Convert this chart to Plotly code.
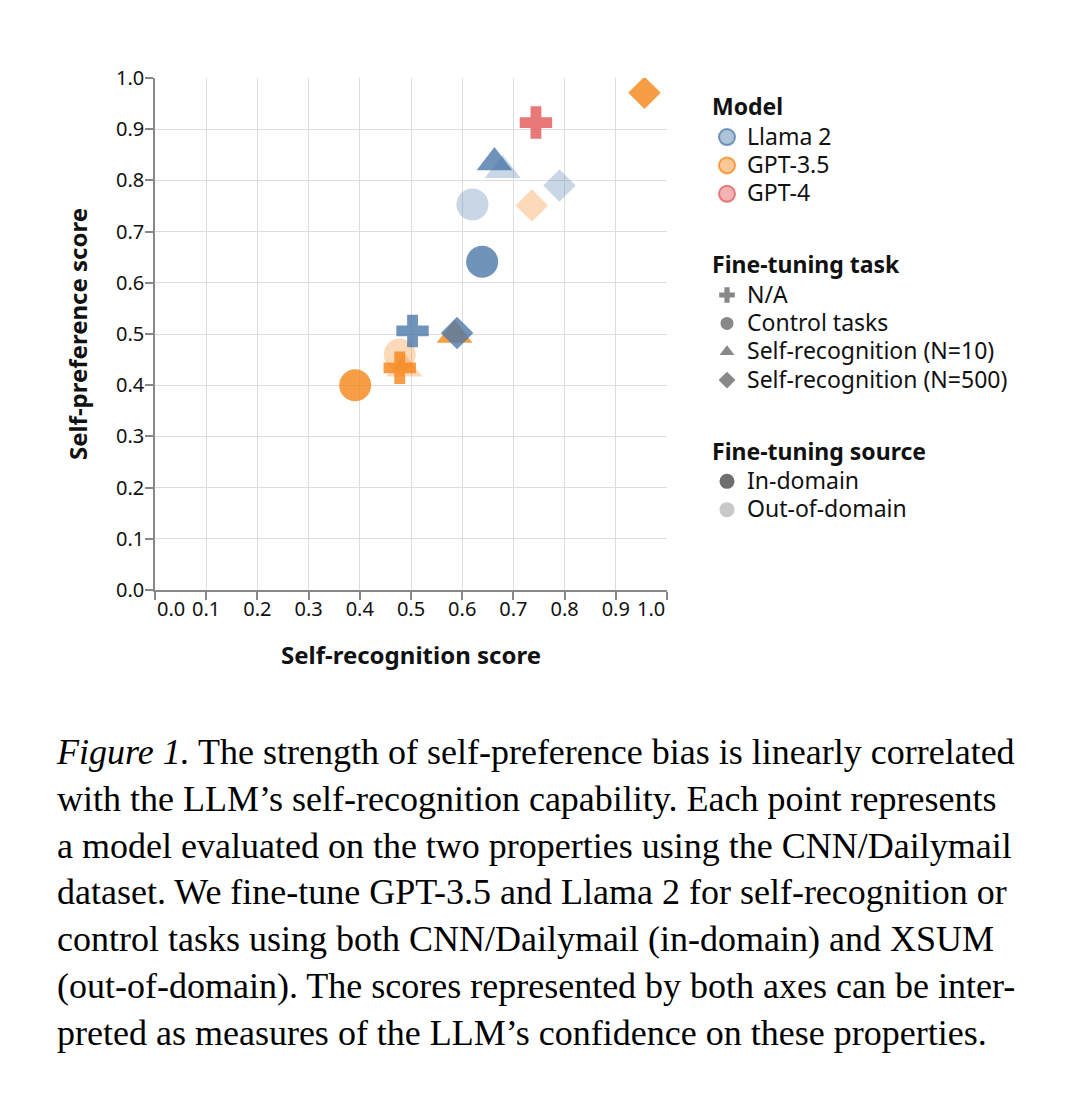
import plotly.graph_objects as go

# ---------------- data ----------------
models = ["Llama 2", "GPT-3.5", "Llama 2", "GPT-3.5", "Llama 2", "GPT-3.5",
          "Llama 2", "GPT-3.5", "Llama 2", "GPT-3.5", "Llama 2", "GPT-3.5",
          "Llama 2", "GPT-3.5", "GPT-4"]
tasks = ["Control tasks", "Control tasks", "Self-recognition (N=10)", "Self-recognition (N=10)",
         "Self-recognition (N=500)", "Self-recognition (N=500)",
         "Control tasks", "Control tasks", "Self-recognition (N=10)", "Self-recognition (N=10)",
         "Self-recognition (N=500)", "Self-recognition (N=500)",
         "N/A", "N/A", "N/A"]
sources = ["Out-of-domain"] * 6 + ["In-domain"] * 6 + [None, None, None]
self_recognition = [0.620, 0.478, 0.679, 0.487, 0.790, 0.736,
                    0.639, 0.391, 0.663, 0.585, 0.590, 0.956,
                    0.503, 0.478, 0.744]
self_preference = [0.753, 0.460, 0.820, 0.432, 0.790, 0.751,
                   0.641, 0.400, 0.835, 0.498, 0.502, 0.971,
                   0.506, 0.434, 0.913]

model_names = ["Llama 2", "GPT-3.5", "GPT-4"]
task_names = ["N/A", "Control tasks", "Self-recognition (N=10)", "Self-recognition (N=500)"]
source_names = ["In-domain", "Out-of-domain"]
tick_values = [0.0, 0.1, 0.2, 0.3, 0.4, 0.5, 0.6, 0.7, 0.8, 0.9, 1.0]
tick_labels = ["0.0", "0.1", "0.2", "0.3", "0.4", "0.5", "0.6", "0.7", "0.8", "0.9", "1.0"]

caption_lines = [
    "<i>Figure 1.</i> The strength of self-preference bias is linearly correlated",
    "with the LLM’s self-recognition capability. Each point represents",
    "a model evaluated on the two properties using the CNN/Dailymail",
    "dataset. We fine-tune GPT-3.5 and Llama 2 for self-recognition or",
    "control tasks using both CNN/Dailymail (in-domain) and XSUM",
    "(out-of-domain). The scores represented by both axes can be inter-",
    "preted as measures of the LLM’s confidence on these properties.",
]

# ---------------- styles ----------------
model_rgb = {"Llama 2": (76, 120, 168), "GPT-3.5": (245, 133, 24), "GPT-4": (228, 87, 86)}
task_symbol = {"N/A": "cross", "Control tasks": "circle",
               "Self-recognition (N=10)": "triangle-up", "Self-recognition (N=500)": "diamond"}
task_size = {"N/A": 27, "Control tasks": 32,
             "Self-recognition (N=10)": 31, "Self-recognition (N=500)": 25}
source_opacity = {"In-domain": 0.8, "Out-of-domain": 0.3, None: 0.8}
source_legend_color = {"In-domain": "rgb(110,110,110)", "Out-of-domain": "rgb(200,200,200)"}

FONT = "Noto Sans"
TXT = "#111111"
W, H = 1088, 1102
OFF = 8                      # page body margin
L, T = 147, 70
PW = PH = 512
R, B = W - L - PW, H - T - PH


def px_x(p):
    return (p - OFF - L) / PW


def px_y(p):
    return 1 - (p - OFF - T) / PH


def big(s):
    return '<span style="font-size:23px">%s</span>' % s


fig = go.Figure()

fig.add_trace(go.Scatter(
    x=self_recognition, y=self_preference, mode="markers", showlegend=False,
    marker=dict(
        color=["rgb(%d,%d,%d)" % model_rgb[m] for m in models],
        symbol=[task_symbol[t] for t in tasks],
        size=[task_size[t] for t in tasks],
        opacity=[source_opacity[s] for s in sources],
        line=dict(width=0),
    ),
    hoverinfo="x+y",
))

# legend entries
for i, m in enumerate(model_names):
    r, g, b = model_rgb[m]
    fig.add_trace(go.Scatter(
        x=[None], y=[None], mode="markers", name=big(m),
        legendgroup="model", legendgrouptitle_text="Model" if i == 0 else None,
        marker=dict(symbol="circle", size=16, color="rgba(%d,%d,%d,0.45)" % (r, g, b),
                    line=dict(color="rgba(%d,%d,%d,0.75)" % (r, g, b), width=2)),
    ))
for i, t in enumerate(task_names):
    fig.add_trace(go.Scatter(
        x=[None], y=[None], mode="markers", name=big(t),
        legendgroup="task", legendgrouptitle_text="Fine-tuning task" if i == 0 else None,
        marker=dict(symbol=task_symbol[t], size=13, color="rgb(136,136,136)", line=dict(width=0)),
    ))
for i, s in enumerate(source_names):
    fig.add_trace(go.Scatter(
        x=[None], y=[None], mode="markers", name=big(s),
        legendgroup="source", legendgrouptitle_text="Fine-tuning source" if i == 0 else None,
        marker=dict(symbol="circle", size=15, color=source_legend_color[s], line=dict(width=0)),
    ))

axis_common = dict(
    range=[0, 1], tickvals=tick_values, showgrid=True, gridcolor="#dddddd", gridwidth=1,
    zeroline=False, showline=True, linecolor="#888888", linewidth=1.5,
    ticks="outside", ticklen=8, tickwidth=1.5, tickcolor="#888888",
    tickfont=dict(family=FONT, size=20, color=TXT),
    title_font=dict(family=FONT, size=24, color=TXT, weight="bold"),
    fixedrange=True,
)

fig.update_xaxes(**axis_common, ticktext=[""] + tick_labels[1:-1] + [""],
                 ticklabelstandoff=-8,
                 title_text="Self-recognition score", title_standoff=26)
fig.update_yaxes(**axis_common, ticktext=tick_labels, ticklabelstandoff=-3,
                 title_text="Self-preference score", title_standoff=22)

# flush end labels on the x axis (vega-lite labelFlush)
for v, lab, anchor in [(tick_values[0], tick_labels[0], "left"),
                       (tick_values[-1], tick_labels[-1], "right")]:
    fig.add_annotation(x=v, y=0, xref="x", yref="paper", yshift=-3,
                       text=lab, showarrow=False, xanchor=anchor, yanchor="top",
                       font=dict(family=FONT, size=20, color=TXT))

# caption
fig.add_annotation(x=px_x(54), y=px_y(730), xref="paper", yref="paper",
                   text="<br>".join(caption_lines), showarrow=False,
                   xanchor="left", yanchor="top", align="left",
                   font=dict(family="Liberation Serif", size=36, color="#000000"))

fig.update_layout(
    width=W, height=H,
    margin=dict(l=L, r=R, t=T, b=B, autoexpand=False),
    plot_bgcolor="white", paper_bgcolor="white",
    legend=dict(
        x=px_x(707), y=px_y(85), xanchor="left", yanchor="top",
        traceorder="grouped", tracegroupgap=40, itemwidth=30,
        font=dict(family=FONT, size=19.5, color=TXT),
        grouptitlefont=dict(family=FONT, size=23, color=TXT, weight="bold"),
        bgcolor="rgba(0,0,0,0)",
    ),
    font=dict(family=FONT),
)

fig.write_html("out.html")
